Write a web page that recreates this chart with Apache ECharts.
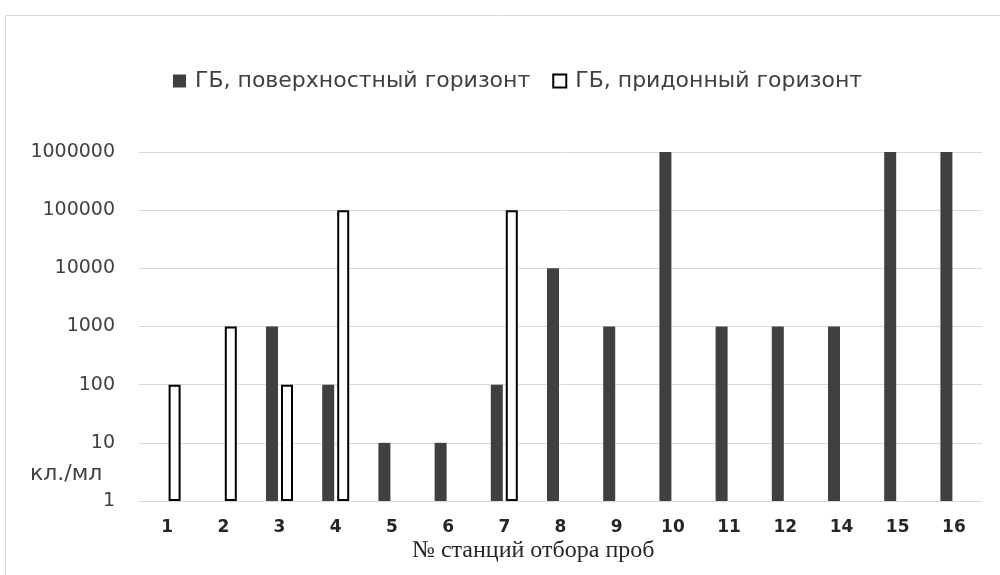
<!DOCTYPE html>
<html>
<head>
<meta charset="utf-8">
<script src="https://cdn.jsdelivr.net/npm/echarts@6/dist/echarts.min.js"></script>
<style>
  html, body { margin: 0; padding: 0; background: #fff; }
  #chart { width: 1000px; height: 575px; }
</style>
</head>
<body>
<div id="chart"></div>
<script>
// Sampling stations (station 13 not sampled)
const stations = ['1', '2', '3', '4', '5', '6', '7', '8', '9', '10', '11', '12', '14', '15', '16'];
// Heterotrophic bacteria, cells/ml — surface layer
const surfaceValues = [null, null, 1000, 100, 10, 10, 100, 10000, 1000, 1000000, 1000, 1000, 1000, 1000000, 1000000];
// Heterotrophic bacteria, cells/ml — near-bottom layer
const bottomValues = [100, 1000, 100, 100000, null, null, 100000, null, null, null, null, null, null, null, null];
// Series names
const seriesNames = ['ГБ, поверхностный горизонт', 'ГБ, придонный горизонт'];
// Y axis tick values (log scale)
const yTicks = [1, 10, 100, 1000, 10000, 100000, 1000000];

const chart = echarts.init(document.getElementById('chart'), null, { renderer: 'canvas' });

const option = {
  backgroundColor: '#ffffff',
  animation: false,
  graphic: [
    {
      type: 'rect',
      shape: { x: 5.5, y: 15.5, width: 1200, height: 800 },
      style: { fill: 'none', stroke: '#d9d9d9', lineWidth: 1 },
      silent: true
    },
    {
      type: 'text',
      left: 30,
      top: 463,
      style: {
        text: 'кл./мл',
        font: '22px "DejaVu Sans"',
        fill: '#404040'
      }
    },
    {
      type: 'text',
      left: 412,
      top: 539,
      style: {
        text: '№ станций отбора проб',
        font: '24px "Liberation Serif"',
        fill: '#262626'
      }
    }
  ],
  legend: {
    left: 168,
    top: 65,
    itemWidth: 13,
    itemHeight: 13,
    itemGap: 22,
    icon: 'rect',
    textStyle: {
      fontFamily: 'DejaVu Sans',
      fontSize: 22,
      color: '#404040',
      padding: [0, 0, 0, 4]
    },
    data: seriesNames
  },
  grid: {
    left: 139,
    right: 18,
    top: 152,
    bottom: 74,
    containLabel: false
  },
  xAxis: {
    type: 'category',
    data: stations,
    axisLine: { lineStyle: { color: '#d9d9d9', width: 1 } },
    axisTick: { show: false },
    axisLabel: {
      margin: 18,
      fontFamily: 'DejaVu Sans',
      fontSize: 17,
      fontWeight: 'bold',
      color: '#262626'
    }
  },
  yAxis: {
    type: 'log',
    logBase: 10,
    min: 1,
    max: 1000000,
    axisLine: { show: false },
    axisTick: { show: false },
    splitLine: { lineStyle: { color: '#d9d9d9', width: 1 } },
    axisLabel: {
      margin: 24,
      fontFamily: 'DejaVu Sans',
      fontSize: 19,
      color: '#404040',
      formatter: function (v) {
        const r = Math.round(v);
        return yTicks.indexOf(r) >= 0 ? String(r) : '';
      }
    }
  },
  series: [
    {
      name: seriesNames[0],
      type: 'bar',
      data: surfaceValues,
      barWidth: 12,
      barGap: '25%',
      itemStyle: { color: '#404040' }
    },
    {
      name: seriesNames[1],
      type: 'bar',
      data: bottomValues,
      barWidth: 12,
      itemStyle: { color: '#ffffff', borderColor: '#000000', borderWidth: 2 }
    }
  ]
};

chart.setOption(option);
</script>
</body>
</html>
